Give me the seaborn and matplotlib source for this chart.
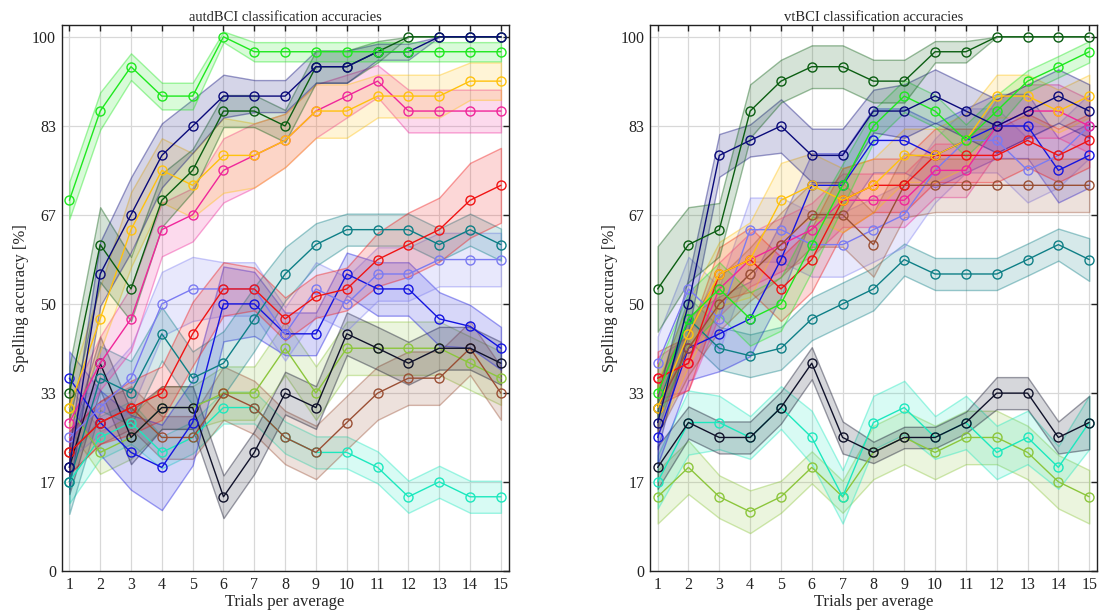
import numpy as np
import pandas as pd
import matplotlib
matplotlib.use("Agg")
import matplotlib.pyplot as plt
from matplotlib.colors import to_rgba
import seaborn as sns

# ------------------------------------------------------------
# data: mean spelling accuracy [%] and half-width of shaded band
# ------------------------------------------------------------
trials = list(range(1, 16))
y_ticks = [0, 100 / 6, 200 / 6, 50, 400 / 6, 500 / 6, 100]
y_tick_labels = ["0", "17", "33", "50", "67", "83", "100"]

# colours of the subjects (same order in both panels)
c_lime = "#1EE81E"
c_navy = "#0A0A7A"
c_dkgreen = "#0B5E12"
c_gold = "#FFC20E"
c_pink = "#F0269A"
c_red = "#F01414"
c_teal = "#0E7F86"
c_lavender = "#7B7BF2"
c_blue = "#1414E0"
c_black = "#10122A"
c_brown = "#9A4F34"
c_ygreen = "#8CC63C"
c_aqua = "#1CE8BE"

# ---- autdBCI ----
autd_lime = [69.4, 86.1, 94.4, 88.9, 88.9, 100, 97.2, 97.2, 97.2, 97.2, 97.2, 97.2, 97.2, 97.2, 97.2]
autd_lime_err = [3.5, 3.5, 2.5, 2.5, 2.5, 1, 1.8, 1.8, 1.8, 1.8, 1.8, 1.8, 1.8, 1.8, 1.8]
autd_navy = [19.4, 55.6, 66.7, 77.8, 83.3, 88.9, 88.9, 88.9, 94.4, 94.4, 97.2, 97.2, 100, 100, 100]
autd_navy_err = [4, 6, 7, 6, 5, 4, 3, 3, 3, 3, 1.5, 1.5, 0, 0, 0]
autd_dkgreen = [33.3, 61.1, 52.8, 69.4, 75.0, 86.1, 86.1, 83.3, 94.4, 94.4, 97.2, 100, 100, 100, 100]
autd_dkgreen_err = [5, 7, 6, 5, 4, 3, 3, 3, 3, 3, 2, 0, 0, 0, 0]
autd_gold = [30.6, 47.2, 63.9, 75.0, 72.2, 77.8, 77.8, 80.6, 86.1, 86.1, 88.9, 88.9, 88.9, 91.7, 91.7]
autd_gold_err = [4, 6, 7, 6, 6, 7, 6, 5, 5, 5, 4, 4, 4, 3.5, 3.5]
autd_pink = [27.8, 38.9, 47.2, 63.9, 66.7, 75.0, 77.8, 80.6, 86.1, 88.9, 91.7, 86.1, 86.1, 86.1, 86.1]
autd_pink_err = [4, 5, 6, 5, 5, 6, 6, 5, 5, 4, 3, 4, 4, 4, 4]
autd_red = [22.2, 27.8, 30.6, 33.3, 44.4, 52.8, 52.8, 47.2, 51.4, 52.8, 58.3, 61.1, 63.9, 69.4, 72.2]
autd_red_err = [4, 4, 5, 5, 6, 5, 4, 4, 4, 4, 5, 6, 6, 7, 7]
autd_teal = [16.7, 36.1, 33.3, 44.4, 36.1, 38.9, 47.2, 55.6, 61.1, 63.9, 63.9, 63.9, 61.1, 63.9, 61.1]
autd_teal_err = [6, 6, 6, 5, 5, 6, 6, 5, 4, 3, 3, 3, 3, 3, 3]
autd_lavender = [25.0, 30.6, 36.1, 50.0, 52.8, 52.8, 52.8, 44.4, 52.8, 50.0, 55.6, 55.6, 58.3, 58.3, 58.3]
autd_lavender_err = [4, 5, 6, 6, 6, 5, 5, 5, 5, 5, 5, 5, 5, 5, 5]
autd_blue = [36.1, 27.8, 22.2, 19.4, 27.8, 50.0, 50.0, 44.4, 44.4, 55.6, 52.8, 52.8, 47.2, 45.8, 41.7]
autd_blue_err = [5, 6, 7, 8, 8, 7, 6, 4, 4, 4, 5, 5, 5, 4, 4]
autd_black = [19.4, 38.9, 25.0, 30.6, 30.6, 13.9, 22.2, 33.3, 30.6, 44.4, 41.7, 38.9, 41.7, 41.7, 38.9]
autd_black_err = [5, 5, 5, 4, 4, 4, 4, 4, 4, 4, 4, 4, 4, 4, 4]
autd_brown = [22.2, 27.8, 30.6, 25.0, 25.0, 33.3, 30.6, 25.0, 22.2, 27.8, 33.3, 36.1, 36.1, 41.7, 33.3]
autd_brown_err = [4, 4, 4, 4, 4, 5, 5, 5, 5, 5, 5, 5, 5, 5, 5]
autd_ygreen = [30.6, 22.2, 25.0, 30.6, 30.6, 33.3, 33.3, 41.7, 33.3, 41.7, 41.7, 41.7, 41.7, 38.9, 36.1]
autd_ygreen_err = [4, 4, 4, 4, 4, 5, 5, 5, 5, 5, 5, 5, 5, 5, 5]
autd_aqua = [16.7, 25.0, 27.8, 22.2, 25.0, 30.6, 30.6, 25.0, 22.2, 22.2, 19.4, 13.9, 16.7, 13.9, 13.9]
autd_aqua_err = [4, 4, 4, 3, 3, 3, 3, 3, 3, 3, 3, 3, 3, 3, 3]

# ---- vtBCI ----
vt_dkgreen = [52.8, 61.1, 63.9, 86.1, 91.7, 94.4, 94.4, 91.7, 91.7, 97.2, 97.2, 100, 100, 100, 100]
vt_dkgreen_err = [8, 7, 5, 5, 4, 4, 4, 4, 4, 2, 2, 0, 0, 0, 0]
vt_navy = [27.8, 50.0, 77.8, 80.6, 83.3, 77.8, 77.8, 86.1, 86.1, 88.9, 86.1, 83.3, 86.1, 88.9, 86.1]
vt_navy_err = [5, 5, 4, 3, 5, 5, 5, 4, 5, 5, 5, 5, 5, 5, 5]
vt_lime = [33.3, 47.2, 52.8, 47.2, 50.0, 61.1, 72.2, 83.3, 88.9, 86.1, 80.6, 86.1, 91.7, 94.4, 97.2]
vt_lime_err = [5, 5, 5, 5, 5, 5, 4, 3, 3, 3, 3, 3, 2, 2, 2]
vt_gold = [30.6, 44.4, 55.6, 58.3, 69.4, 72.2, 69.4, 72.2, 77.8, 77.8, 80.6, 88.9, 88.9, 86.1, 88.9]
vt_gold_err = [5, 6, 6, 7, 7, 6, 6, 5, 5, 5, 5, 4, 4, 4, 4]
vt_red = [36.1, 38.9, 55.6, 58.3, 52.8, 58.3, 69.4, 72.2, 72.2, 77.8, 77.8, 77.8, 80.6, 77.8, 80.6]
vt_red_err = [5, 5, 5, 6, 6, 6, 6, 5, 5, 5, 5, 5, 5, 5, 5]
vt_brown = [30.6, 41.7, 50.0, 55.6, 61.1, 66.7, 66.7, 61.1, 72.2, 72.2, 72.2, 72.2, 72.2, 72.2, 72.2]
vt_brown_err = [5, 5, 5, 5, 6, 6, 6, 6, 6, 5, 5, 5, 5, 5, 5]
vt_pink = [36.1, 38.9, 52.8, 58.3, 61.1, 63.9, 69.4, 69.4, 69.4, 75.0, 75.0, 83.3, 86.1, 86.1, 83.3]
vt_pink_err = [4, 5, 5, 5, 5, 5, 5, 5, 5, 5, 5, 5, 5, 5, 5]
vt_lavender = [38.9, 52.8, 47.2, 63.9, 63.9, 61.1, 61.1, 63.9, 66.7, 75.0, 80.6, 80.6, 75.0, 77.8, 83.3]
vt_lavender_err = [5, 6, 6, 6, 6, 6, 6, 6, 6, 6, 6, 6, 6, 6, 6]
vt_blue = [25.0, 41.7, 44.4, 47.2, 58.3, 72.2, 72.2, 80.6, 80.6, 77.8, 80.6, 83.3, 83.3, 75.0, 77.8]
vt_blue_err = [5, 6, 7, 7, 7, 6, 6, 6, 6, 6, 6, 6, 6, 6, 6]
vt_teal = [30.6, 47.2, 41.7, 40.3, 41.7, 47.2, 50.0, 52.8, 58.3, 55.6, 55.6, 55.6, 58.3, 61.1, 58.3]
vt_teal_err = [4, 4, 4, 4, 4, 4, 4, 4, 3, 3, 3, 3, 3, 3, 4]
vt_black = [19.4, 27.8, 25.0, 25.0, 30.6, 38.9, 25.0, 22.2, 25.0, 25.0, 27.8, 33.3, 33.3, 25.0, 27.8]
vt_black_err = [4, 3, 3, 3, 3, 3, 3, 2, 2, 2, 2, 3, 3, 3, 5]
vt_aqua = [16.7, 27.8, 27.8, 25.0, 30.6, 25.0, 13.9, 27.8, 30.6, 25.0, 27.8, 22.2, 25.0, 19.4, 27.8]
vt_aqua_err = [5, 6, 5, 4, 4, 5, 5, 5, 5, 4, 5, 5, 5, 4, 5]
vt_ygreen = [13.9, 19.4, 13.9, 11.1, 13.9, 19.4, 13.9, 22.2, 25.0, 22.2, 25.0, 25.0, 22.2, 16.7, 13.9]
vt_ygreen_err = [5, 5, 4, 4, 3, 3, 3, 5, 5, 5, 5, 5, 5, 5, 5]

autd_series = [
    (c_aqua, autd_aqua, autd_aqua_err),
    (c_ygreen, autd_ygreen, autd_ygreen_err),
    (c_brown, autd_brown, autd_brown_err),
    (c_black, autd_black, autd_black_err),
    (c_blue, autd_blue, autd_blue_err),
    (c_lavender, autd_lavender, autd_lavender_err),
    (c_teal, autd_teal, autd_teal_err),
    (c_red, autd_red, autd_red_err),
    (c_pink, autd_pink, autd_pink_err),
    (c_gold, autd_gold, autd_gold_err),
    (c_dkgreen, autd_dkgreen, autd_dkgreen_err),
    (c_navy, autd_navy, autd_navy_err),
    (c_lime, autd_lime, autd_lime_err),
]
vt_series = [
    (c_ygreen, vt_ygreen, vt_ygreen_err),
    (c_aqua, vt_aqua, vt_aqua_err),
    (c_black, vt_black, vt_black_err),
    (c_teal, vt_teal, vt_teal_err),
    (c_blue, vt_blue, vt_blue_err),
    (c_lavender, vt_lavender, vt_lavender_err),
    (c_pink, vt_pink, vt_pink_err),
    (c_brown, vt_brown, vt_brown_err),
    (c_red, vt_red, vt_red_err),
    (c_gold, vt_gold, vt_gold_err),
    (c_lime, vt_lime, vt_lime_err),
    (c_navy, vt_navy, vt_navy_err),
    (c_dkgreen, vt_dkgreen, vt_dkgreen_err),
]

# ------------------------------------------------------------
# style
# ------------------------------------------------------------
sns.set_style("white")
plt.rcParams["font.family"] = ["Liberation Serif", "DejaVu Serif"]

fig = plt.figure(figsize=(10.99, 6.15), dpi=100)
ax_l = fig.add_axes([0.0561, 0.0715, 0.4067, 0.8878])
ax_r = fig.add_axes([0.5914, 0.0715, 0.4067, 0.8878])


def draw_panel(ax, series, title):
    for color, mean, err in series:
        df = pd.DataFrame({"trials": trials, "acc": mean, "err": err})
        lo = df["acc"] - df["err"]
        hi = df["acc"] + df["err"]
        ax.fill_between(df["trials"], lo, hi,
                        facecolor=to_rgba(color, 0.17),
                        edgecolor=to_rgba(color, 0.4), linewidth=1.0, zorder=2)
        sns.lineplot(data=df, x="trials", y="acc", ax=ax, color=color,
                     linewidth=1.0, marker="o", markersize=6.5,
                     markerfacecolor="none", markeredgecolor=color,
                     markeredgewidth=1.0, zorder=3)

    ax.set_xlim(0.75, 15.25)
    ax.set_ylim(0, 102.2)
    ax.set_xticks(trials)
    ax.set_yticks(y_ticks)
    ax.set_yticklabels(y_tick_labels)
    ax.grid(True, color="#d8d8d8", linewidth=0.9, zorder=0)
    ax.set_axisbelow(True)
    ax.tick_params(direction="in", top=True, right=True, length=4,
                   width=1.0, labelsize=11.5, colors="#222222", pad=4)
    for s in ax.spines.values():
        s.set_color("#222222")
        s.set_linewidth(1.0)
    ax.set_title(title, fontsize=10.5, pad=3)
    ax.set_xlabel("Trials per average", fontsize=12, labelpad=1)
    ax.set_ylabel("Spelling accuracy [%]", fontsize=12, labelpad=2)


draw_panel(ax_l, autd_series, "autdBCI classification accuracies")
draw_panel(ax_r, vt_series, "vtBCI classification accuracies")

fig.savefig("out.png", dpi=100)
